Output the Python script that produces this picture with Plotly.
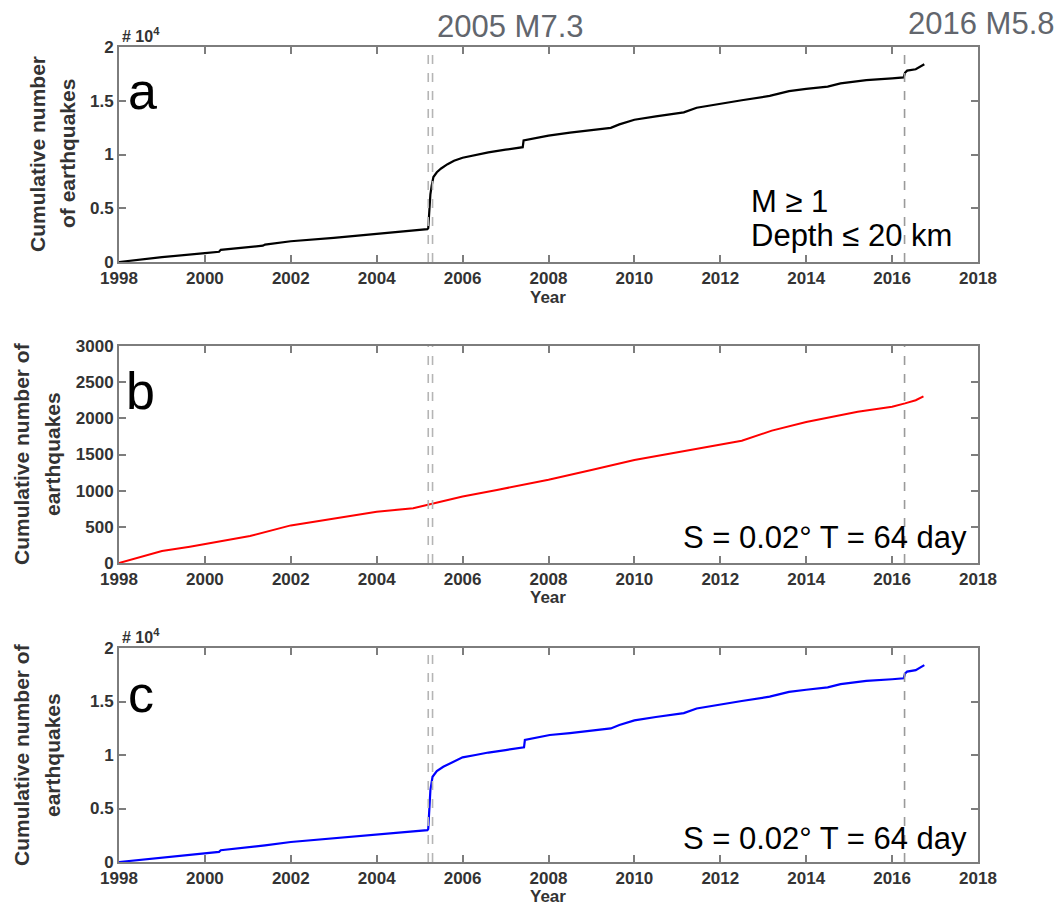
import plotly.graph_objects as go

# ---------------- data ----------------
years_a = [1998.0, 1999.0, 2000.0, 2000.33, 2000.37, 2001.0, 2001.35, 2001.4, 2002.0, 2003.0,
           2003.45, 2004.0, 2004.6, 2005.18, 2005.2, 2005.22, 2005.25, 2005.28, 2005.32, 2005.4,
           2005.5, 2005.65, 2005.8, 2006.0, 2006.3, 2006.6, 2007.0, 2007.4, 2007.42, 2007.7,
           2008.0, 2008.5, 2009.0, 2009.45, 2009.65, 2009.85, 2010.0, 2010.5, 2011.15, 2011.45,
           2012.0, 2012.5, 2013.15, 2013.6, 2014.0, 2014.5, 2014.8, 2015.4, 2016.0, 2016.27,
           2016.3, 2016.35, 2016.55, 2016.75]
counts_a = [0, 450, 820, 950, 1130, 1380, 1520, 1620, 1930, 2250,
            2420, 2620, 2830, 3050, 3150, 4500, 6300, 7100, 7900, 8350,
            8700, 9100, 9420, 9700, 9950, 10200, 10450, 10680, 11300, 11550,
            11760, 12030, 12250, 12480, 12800, 13080, 13230, 13550, 13920, 14350,
            14750, 15050, 15450, 15900, 16100, 16320, 16620, 16920, 17080, 17170,
            17600, 17800, 17930, 18400]

years_b = [1998.0, 1999.0, 1999.65, 2000.0, 2001.05, 2002.0, 2003.2, 2004.0, 2004.85, 2005.25,
           2006.0, 2006.8, 2008.0, 2009.0, 2010.0, 2011.3, 2012.5, 2013.2, 2014.0, 2015.2,
           2016.0, 2016.3, 2016.55, 2016.73]
counts_b = [0, 165, 225, 263, 373, 520, 640, 710, 756, 811,
            920, 1010, 1150, 1286, 1424, 1562, 1690, 1830, 1950, 2090,
            2160, 2207, 2250, 2305]

years_c = [1998.0, 1999.0, 2000.0, 2000.33, 2000.37, 2001.0, 2001.35, 2001.4, 2002.0, 2003.0,
           2003.45, 2004.0, 2004.6, 2005.18, 2005.2, 2005.22, 2005.25, 2005.3, 2005.4, 2005.55,
           2005.8, 2006.0, 2006.3, 2006.6, 2007.0, 2007.43, 2007.45, 2007.7, 2008.03, 2008.5,
           2009.0, 2009.45, 2009.65, 2009.85, 2010.0, 2010.5, 2011.15, 2011.45, 2012.0, 2012.5,
           2013.15, 2013.6, 2014.0, 2014.5, 2014.8, 2015.4, 2016.0, 2016.27, 2016.3, 2016.35,
           2016.55, 2016.75]
counts_c = [0, 430, 790, 950, 1100, 1350, 1500, 1560, 1870, 2200,
            2340, 2560, 2780, 2970, 3100, 4600, 6720, 7970, 8500, 8900,
            9400, 9780, 10000, 10230, 10460, 10720, 11400, 11600, 11870, 12050,
            12250, 12480, 12800, 13080, 13230, 13550, 13920, 14350, 14750, 15050,
            15450, 15900, 16100, 16320, 16620, 16920, 17080, 17170, 17600, 17800,
            17930, 18400]

event_lines_2005 = [2005.2, 2005.3]
event_line_2016 = 2016.29

x_ticks = list(range(1998, 2019, 2))
y_ticks_1e4 = [0, 5000, 10000, 15000, 20000]
y_text_1e4 = ["0", "0.5", "1", "1.5", "2"]
y_ticks_b = [0, 500, 1000, 1500, 2000, 2500, 3000]

# ---------------- layout helpers ----------------
W, H = 1062, 909
def px(x): return x / W
def py(y): return 1 - y / H

X0, X1 = 119, 978
panels = [(47, 262), (346, 563), (648, 862)]  # top, bottom in pixels

AXCOL = "#7d7d7d"
TXT = "#333333"
FONT = "Liberation Sans, Arial, sans-serif"
tickfont = dict(family=FONT, size=17, color=TXT, weight="bold")

fig = go.Figure()
fig.add_trace(go.Scatter(x=years_a, y=counts_a, mode="lines", line=dict(color="black", width=2.2),
                         xaxis="x", yaxis="y", showlegend=False, hoverinfo="skip"))
fig.add_trace(go.Scatter(x=years_b, y=counts_b, mode="lines", line=dict(color="#ff0000", width=2),
                         xaxis="x2", yaxis="y2", showlegend=False, hoverinfo="skip"))
fig.add_trace(go.Scatter(x=years_c, y=counts_c, mode="lines", line=dict(color="#0000ff", width=2.2),
                         xaxis="x3", yaxis="y3", showlegend=False, hoverinfo="skip"))

layout = dict(template="none", width=W, height=H, margin=dict(l=0, r=0, t=0, b=0, pad=0),
              autosize=False, paper_bgcolor="white", plot_bgcolor="white", showlegend=False,
              font=dict(family=FONT))

yranges = [[0, 20000], [0, 3000], [0, 20000]]
ytv = [y_ticks_1e4, y_ticks_b, y_ticks_1e4]
ytt = [y_text_1e4, [str(v) for v in y_ticks_b], y_text_1e4]
for i, (top, bot) in enumerate(panels):
    sfx = "" if i == 0 else str(i + 1)
    layout["xaxis" + sfx] = dict(domain=[px(X0), px(X1)], range=[1998, 2018], anchor="y" + sfx,
                                 tickvals=x_ticks, ticks="inside", ticklen=7, tickwidth=1.5,
                                 tickcolor=AXCOL, showline=True, linecolor=AXCOL, linewidth=2,
                                 mirror="allticks", showgrid=False, zeroline=False,
                                 tickfont=tickfont, automargin=False)
    layout["yaxis" + sfx] = dict(domain=[py(bot), py(top)], range=yranges[i], anchor="x" + sfx,
                                 tickvals=ytv[i], ticktext=ytt[i], ticks="inside", ticklen=7,
                                 tickwidth=1.5, tickcolor=AXCOL, showline=True, linecolor=AXCOL,
                                 linewidth=2, mirror="allticks", showgrid=False, zeroline=False,
                                 tickfont=tickfont, automargin=False)
fig.update_layout(**layout)

# dashed event lines
shapes = []
for i in range(3):
    sfx = "" if i == 0 else str(i + 1)
    for xv in event_lines_2005:
        shapes.append(dict(type="line", xref="x" + sfx, yref="y" + sfx + " domain",
                           x0=xv, x1=xv, y0=0, y1=1,
                           line=dict(color="#b5b5b5", width=1.6, dash="dash")))
    shapes.append(dict(type="line", xref="x" + sfx, yref="y" + sfx + " domain",
                       x0=event_line_2016, x1=event_line_2016, y0=0, y1=1,
                       line=dict(color="#9a9a9a", width=1.6, dash="dash")))
fig.update_layout(shapes=shapes)

ann = []
def add(text, x, y, size, color="black", bold=False, xanchor="center", angle=0):
    f = dict(family=FONT, size=size, color=color)
    if bold:
        f["weight"] = "bold"
    ann.append(dict(text=text, x=px(x), y=py(y), xref="paper", yref="paper", showarrow=False,
                    xanchor=xanchor, yanchor="middle", font=f, textangle=angle, borderpad=0))

# event labels
add("2005 M7.3", 510, 26, 31, color="#62666d")
add("2016 M5.8", 981, 23, 31, color="#62666d")

# panel letters
add("a", 127, 91, 52, xanchor="left")
add("b", 125, 391, 52, xanchor="left")
add("c", 127, 694, 52, xanchor="left")

# multiplier labels
add("# 10<sup>4</sup>", 141, 35, 16, color=TXT, bold=True)
add("# 10<sup>4</sup>", 141, 636, 16, color=TXT, bold=True)

# panel annotations
add("M \u2265 1", 750, 201, 31, xanchor="left")
add("Depth \u2264 20 km", 750, 236, 31, xanchor="left")
add("S = 0.02\u00b0 T = 64 day", 968, 537, 31, xanchor="right")
add("S = 0.02\u00b0 T = 64 day", 968, 838, 31, xanchor="right")

# x titles
for y in (297, 597, 896):
    add("Year", 548, y, 17, color=TXT, bold=True)

# y titles
add("Cumulative number", 37, 154, 21, color=TXT, bold=True, angle=-90)
add("of earthquakes", 67, 154, 21, color=TXT, bold=True, angle=-90)
add("Cumulative number of", 21, 454, 21, color=TXT, bold=True, angle=-90)
add("earthquakes", 52, 454, 21, color=TXT, bold=True, angle=-90)
add("Cumulative number of", 21, 755, 21, color=TXT, bold=True, angle=-90)
add("earthquakes", 52, 755, 21, color=TXT, bold=True, angle=-90)

fig.update_layout(annotations=ann)
fig.write_html("out.html")
